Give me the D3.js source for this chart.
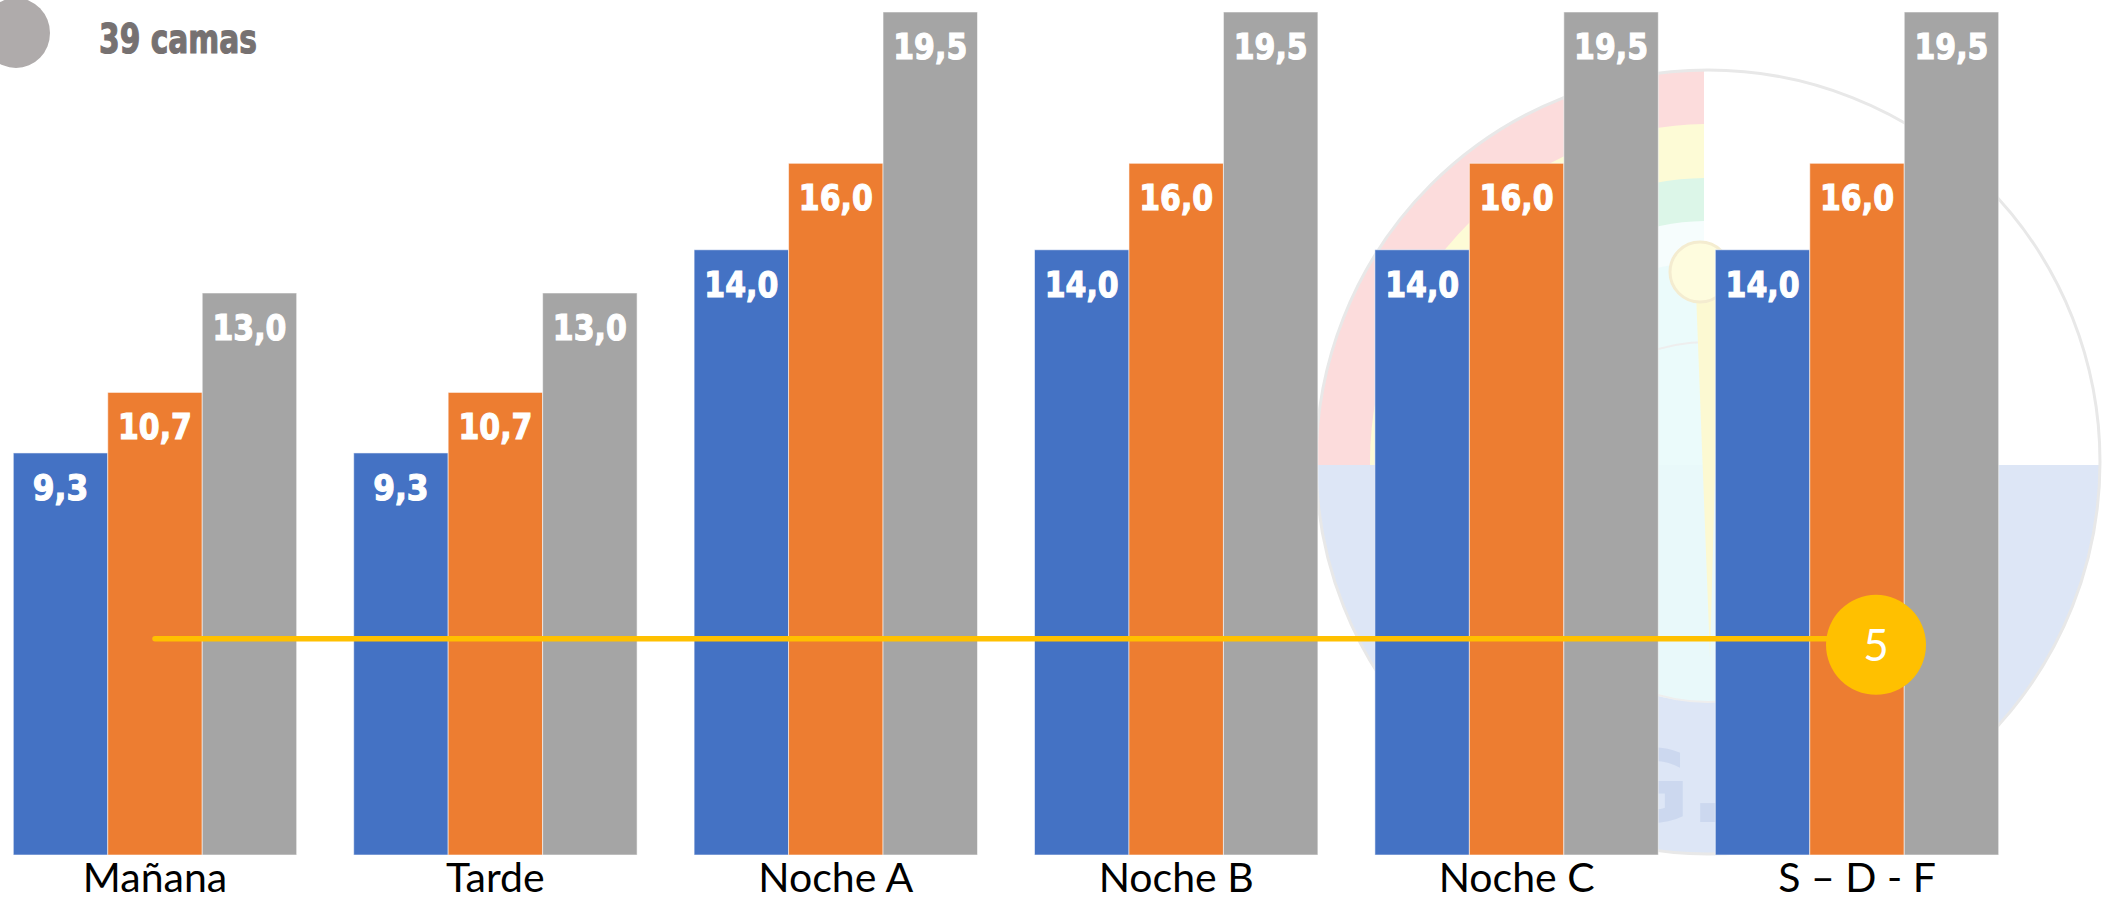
<!DOCTYPE html>
<html>
<head>
<meta charset="utf-8">
<script src="https://cdn.jsdelivr.net/npm/d3@7"></script>
<style>
  html, body { margin: 0; padding: 0; background: #fff; }
  svg { display: block; }
</style>
</head>
<body>
<script>
// ---- data ----
const categories = ["Mañana", "Tarde", "Noche A", "Noche B", "Noche C", "S – D - F"];
const seriesNames = ["s1", "s2", "s3"];
const values1 = [9.3, 9.3, 14.0, 14.0, 14.0, 14.0];
const values2 = [10.7, 10.7, 16.0, 16.0, 16.0, 16.0];
const values3 = [13.0, 13.0, 19.5, 19.5, 19.5, 19.5];
const targetLine = [5, 5, 5, 5, 5, 5];
const targetLabel = "5";
const titleText = "39 camas";
const colors = ["#4472C4", "#ED7D31", "#A5A5A5"];

const W = 2113, H = 902;
const svg = d3.select("body").append("svg").attr("width", W).attr("height", H);

// ---- watermark (decorative background logo) ----
const wm = svg.append("g").attr("class", "watermark");
const cx = 1708, cy = 462, R = 392;
const defs = svg.append("defs");
defs.append("clipPath").attr("id", "wmClip")
  .append("circle").attr("cx", cx).attr("cy", cy).attr("r", R);
const wmc = wm.append("g").attr("clip-path", "url(#wmClip)");
wmc.append("rect").attr("x", cx - R).attr("y", cy + 3).attr("width", 2 * R).attr("height", R).attr("fill", "#dde6f6");
defs.append("clipPath").attr("id", "ulClip")
  .append("rect").attr("x", cx - R).attr("y", cy - R).attr("width", R - 4).attr("height", R + 3);
const ul = wmc.append("g").attr("clip-path", "url(#ulClip)");
ul.append("circle").attr("cx", cx).attr("cy", cy).attr("r", R).attr("fill", "#fcdcdc");
ul.append("circle").attr("cx", cx).attr("cy", cy).attr("r", 338).attr("fill", "#fdfbd6");
ul.append("circle").attr("cx", cx).attr("cy", cy).attr("r", 284).attr("fill", "#dcf6e8");
ul.append("circle").attr("cx", cx).attr("cy", cy).attr("r", 241).attr("fill", "#f6fdfd");
wmc.append("circle").attr("cx", cx).attr("cy", cy + 20).attr("r", 220).attr("fill", "#eafbfb").attr("opacity", 0.9);
wmc.append("circle").attr("cx", cx).attr("cy", cy + 60).attr("r", 180).attr("fill", "none")
  .attr("stroke", "#eeeeee").attr("stroke-width", 2);
wmc.append("path").attr("d", `M${cx - 12},${cy - 170} L${cx + 12},${cy - 170} L${cx + 2},${cy + 195} Z`).attr("fill", "#fcf9d2");
wmc.append("circle").attr("cx", cx - 8).attr("cy", cy - 190).attr("r", 30).attr("fill", "#fefcde").attr("stroke", "#f4ecd0").attr("stroke-width", 3);
wmc.append("text").attr("x", 1728).attr("y", 822).attr("text-anchor", "end")
  .attr("font-family", "DejaVu Sans, sans-serif").attr("font-weight", "bold")
  .attr("font-size", 100).attr("fill", "#ccd8ef").text("G.");
wm.append("circle").attr("cx", cx).attr("cy", cy).attr("r", R).attr("fill", "none")
  .attr("stroke", "#e8e8e8").attr("stroke-width", 3);

// ---- scales ----
const x0 = d3.scaleBand().domain(categories).range([13.3, 1998.7]).paddingInner(0.1675).paddingOuter(0);
const x1 = d3.scaleBand().domain(seriesNames).range([0, x0.bandwidth()]).padding(0);
const y = d3.scaleLinear().domain([0, 19.5]).range([855, 12]);

const allSeries = [values1, values2, values3];
const rows = [];
categories.forEach((c, i) => {
  allSeries.forEach((vals, s) => rows.push({ cat: c, s: seriesNames[s], si: s, v: vals[i] }));
});

// ---- bars ----
const g = svg.append("g");
g.selectAll("rect.bar").data(rows).join("rect").attr("class", "bar")
  .attr("x", d => x0(d.cat) + x1(d.s))
  .attr("y", d => y(d.v))
  .attr("width", x1.bandwidth())
  .attr("height", d => y(0) - y(d.v))
  .attr("fill", d => colors[d.si])
  .attr("stroke", "rgba(255,255,255,0.55)")
  .attr("stroke-width", 1);

// value labels
const fmt = v => v.toFixed(1).replace(".", ",");
g.selectAll("text.val").data(rows).join("text").attr("class", "val")
  .attr("x", d => x0(d.cat) + x1(d.s) + x1.bandwidth() / 2)
  .attr("y", d => y(d.v) + 47)
  .attr("text-anchor", "middle")
  .attr("font-family", "'DejaVu Sans', sans-serif")
  .attr("font-weight", "bold")
  .attr("font-size", 35)
  .attr("fill", "#fff")
  .attr("stroke", "#fff")
  .attr("stroke-width", 1.2)
  .attr("textLength", d => fmt(d.v).length * 18.5)
  .attr("lengthAdjust", "spacingAndGlyphs")
  .text(d => fmt(d.v));

// ---- category axis labels ----
const xAxis = d3.axisBottom(x0).tickSize(0).tickPadding(0);
const ax = svg.append("g").attr("transform", `translate(0,${y(0)})`).call(xAxis);
ax.select(".domain").remove();
ax.selectAll("text")
  .attr("dy", 0)
  .attr("y", 37)
  .attr("font-family", "Lato, sans-serif")
  .attr("font-size", 41)
  .attr("fill", "#000");

// ---- target line ----
const lx = i => x0(categories[i]) + x1("s2") + x1.bandwidth() / 2;
const line = d3.line().x((d, i) => lx(i)).y(d => y(d));
svg.append("path").datum(targetLine)
  .attr("d", line)
  .attr("fill", "none")
  .attr("stroke", "#FFC000")
  .attr("stroke-width", 5.5)
  .attr("stroke-linecap", "round");
const last = targetLine.length - 1;
svg.append("circle")
  .attr("cx", lx(last) + 19).attr("cy", y(targetLine[last]) + 6)
  .attr("r", 50).attr("fill", "#FFC000");
svg.append("text")
  .attr("x", lx(last) + 19).attr("y", y(targetLine[last]) + 22)
  .attr("text-anchor", "middle")
  .attr("font-family", "Lato, sans-serif")
  .attr("font-size", 44)
  .attr("fill", "#fff")
  .text(targetLabel);

// ---- title badge ----
svg.append("ellipse").attr("cx", 16).attr("cy", 33).attr("rx", 34).attr("ry", 35).attr("fill", "#AFABAB");
svg.append("text").attr("x", 99).attr("y", 53)
  .attr("font-family", "'DejaVu Sans', sans-serif")
  .attr("font-weight", "bold")
  .attr("font-size", 40)
  .attr("textLength", 158)
  .attr("lengthAdjust", "spacingAndGlyphs")
  .attr("fill", "#767171")
  .attr("stroke", "#767171")
  .attr("stroke-width", 1.2)
  .text(titleText);
</script>
</body>
</html>
